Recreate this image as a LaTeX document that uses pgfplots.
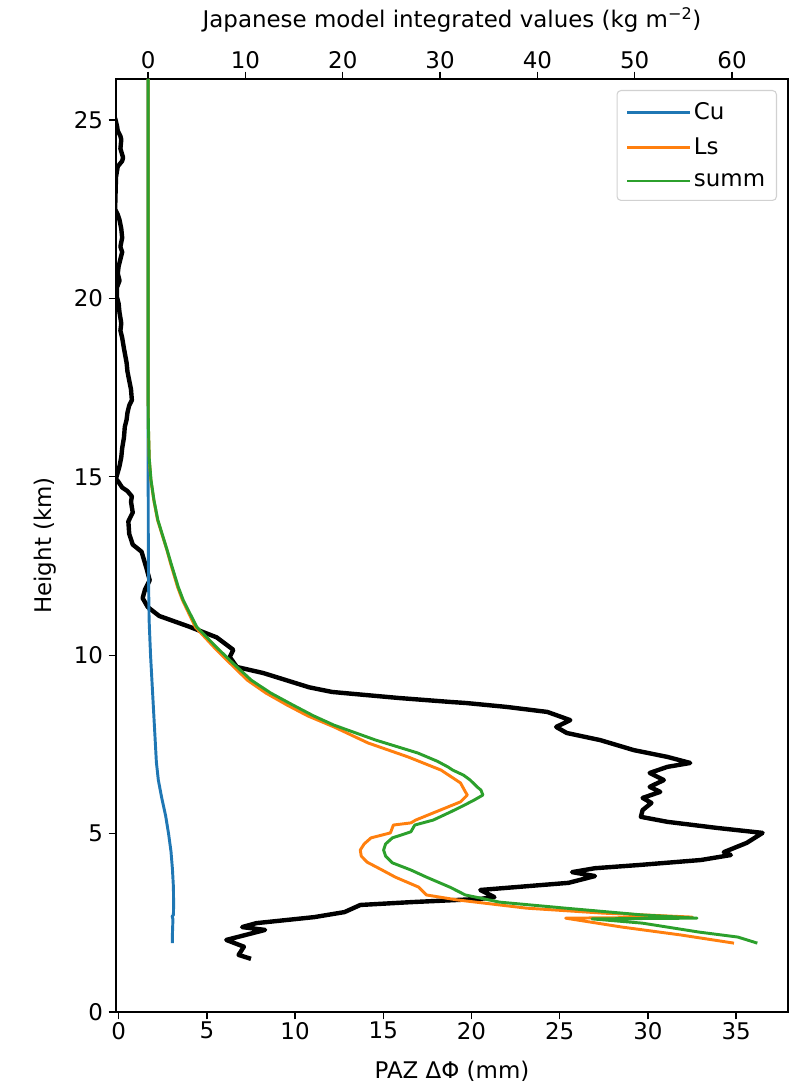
\documentclass[border=0pt]{standalone}
\usepackage{fontspec}
\setmainfont{DejaVu Sans}
\usepackage{pgfplots}
\pgfplotsset{compat=1.18}
\definecolor{c0}{HTML}{1F77B4}
\definecolor{c1}{HTML}{FF7F0E}
\definecolor{c2}{HTML}{2CA02C}
\pgfplotstableread{
b h
-0.2 25.05
-0.1 24.85
-0.05 24.7
0.1 24.55
0.15 24.45
0.1 24.2
0.25 23.95
0.2 23.85
-0.05 23.7
-0.1 23.55
-0.15 23.4
-0.2 22.5
-0.05 22.35
0.05 22.2
0.15 21.95
0.2 21.7
0.1 21.45
0.2 21.3
0.15 21.2
0.0 20.9
-0.05 20.7
0.05 20.5
-0.1 20.3
-0.1 20.05
0.0 19.85
0.05 19.6
0.15 19.3
0.1 19.1
0.2 18.9
0.3 18.6
0.45 18.2
0.5 17.95
0.6 17.7
0.7 17.45
0.75 17.15
0.6 17.0
0.5 16.8
0.45 16.6
0.35 16.4
0.3 16.1
0.2 15.8
0.15 15.55
0.05 15.3
-0.15 14.95
0.0 14.85
0.2 14.7
0.5 14.6
0.75 14.45
0.7 14.3
0.8 14.0
0.55 13.75
0.6 13.4
0.8 13.1
1.3 12.9
1.45 12.65
1.6 12.4
1.76 12.1
1.5 11.85
1.36 11.6
1.65 11.35
2.3 11.1
4.0 10.8
5.56 10.5
6.5 10.15
6.3 9.95
6.7 9.67
8.2 9.5
9.5 9.3
10.8 9.1
12.1 8.97
14.1 8.88
15.9 8.8
18.8 8.69
19.7 8.66
22.0 8.55
24.3 8.41
25.6 8.18
24.8 7.99
25.4 7.82
27.3 7.62
29.2 7.34
31.1 7.15
32.4 6.98
31.1 6.87
30.1 6.70
30.9 6.5
30.1 6.31
30.7 6.17
29.7 6.0
30.2 5.86
29.7 5.66
29.6 5.47
31.1 5.33
33.9 5.16
36.5 5.02
35.6 4.74
34.3 4.48
34.7 4.4
33.0 4.26
29.5 4.12
27.0 4.03
25.7 3.92
27.0 3.81
25.5 3.62
20.5 3.42
21.3 3.22
20.5 3.17
16.6 3.08
13.7 3.0
12.8 2.8
11.1 2.66
7.8 2.49
7.0 2.38
8.3 2.3
6.1 2.02
7.1 1.83
6.8 1.6
7.5 1.49
}\paz
\pgfplotstableread{
t h
0 26.15
0 16
0.02 13
0.05 12
0.1 11
0.25 10
0.45 9
0.65 8
0.85 7
1.05 6.5
1.4 6.0
1.8 5.5
2.1 5.0
2.35 4.5
2.5 4.0
2.6 3.5
2.62 3.0
2.6 2.72
2.47 2.68
2.55 2.6
2.5 2.2
2.5 1.93
}\cu
\pgfplotstableread{
t h
0 26.15
0 17.5
0.02 16.5
0.12 15.5
0.28 14.91
0.58 14.35
0.97 13.79
1.93 12.95
2.3 12.58
3.03 11.91
3.52 11.55
4.85 10.79
6.75 10.23
8.4 9.78
10.2 9.3
12.1 8.94
14.3 8.6
16.4 8.3
19.1 7.99
22.6 7.54
26.7 7.15
30.1 6.78
32.1 6.42
32.6 6.17
32.8 6.08
32.1 5.89
29.3 5.58
27.5 5.38
27.0 5.3
25.2 5.24
24.9 5.02
22.9 4.88
22.2 4.71
21.8 4.54
21.9 4.37
22.5 4.2
23.9 4.0
25.4 3.78
27.8 3.5
28.6 3.28
31.8 3.14
38.9 2.91
46.8 2.77
55.9 2.66
42.9 2.63
48.7 2.38
54.7 2.16
60.2 1.93
}\ls
\pgfplotstableread{
t h
0 26.15
0 17.5
0.02 16.5
0.12 15.5
0.3 14.91
0.6 14.35
1.0 13.79
1.95 12.95
2.35 12.58
3.1 11.91
3.6 11.55
5.0 10.79
7.0 10.23
8.7 9.78
10.6 9.3
12.6 8.94
14.9 8.6
17.0 8.3
19.1 8.04
23.4 7.62
27.7 7.26
29.7 7.03
30.8 6.87
31.3 6.78
32.4 6.64
33.1 6.5
33.8 6.31
34.2 6.22
34.4 6.08
33.5 5.94
32.3 5.77
31.1 5.61
29.3 5.38
27.4 5.24
27.0 5.05
25.1 4.88
24.4 4.71
24.2 4.54
24.4 4.37
25.1 4.18
27.0 3.98
28.6 3.78
31.0 3.5
32.6 3.28
36.1 3.08
42.9 2.91
50.8 2.72
56.4 2.63
45.6 2.61
50.8 2.49
56.6 2.24
60.6 2.1
62.6 1.93
}\summ
\begin{document}
\begin{tikzpicture}
\useasboundingbox (-87pt,-55.5pt) rectangle (509.25pt,759pt);
\pgfplotsset{
  every axis/.append style={
    at={(0,0)}, anchor=south west,
    width=504pt, height=699.75pt, scale only axis,
    font=\fontsize{17.2}{20.6}\selectfont,
    /pgf/number format/assume math mode=true,
    tick align=outside,
    major tick length=5.5pt,
    every tick/.style={black, line width=1pt},
    axis line style={line width=1.2pt},
    ymin=0, ymax=26.15,
  },
}
\begin{axis}[
  xmin=-0.15, xmax=37.94,
  xtick={0,5,...,35}, ytick={0,5,...,25},
  xtick pos=bottom, ytick pos=left,
  xticklabel style={inner sep=2pt},
  yticklabel style={inner sep=2pt, xshift=-2pt},
  xlabel={PAZ ΔΦ (mm)},
  ylabel={Height (km)},
  xlabel style={inner sep=2pt, yshift=-12pt},
  ylabel style={inner sep=3pt, yshift=8pt},
]
\addplot[black, line width=3.3pt, line join=round] table[x=b, y=h] {\paz};
\end{axis}
\begin{axis}[
  xmin=-3.3, xmax=65.75,
  axis y line=none, axis x line*=top,
  xtick={0,10,...,60},
  xticklabel style={inner sep=2pt},
  xlabel={Japanese model integrated values (kg m\textsuperscript{−2})},
  xlabel style={inner sep=2pt, yshift=10pt},
  legend cell align=left,
  legend style={at={(1,1)}, anchor=north east, xshift=-8.25pt, yshift=-8.25pt,
    draw=black!18, rounded corners=3pt, line width=0.8pt,
    inner xsep=6.5pt, inner ysep=7pt, row sep=8.5pt,
    font=\fontsize{17.2}{20.6}\selectfont},
  legend image code/.code={\draw[#1, line width=2.2pt] (0pt,0pt) -- (39pt,0pt); \path (0pt,0pt) -- (47pt,0pt);},
]
\addplot[c0, line width=2.2pt, line join=round] table[x=t, y=h] {\cu};
\addlegendentry{Cu}
\addplot[c1, line width=2.2pt, line join=round] table[x=t, y=h] {\ls};
\addlegendentry{Ls}
\addplot[c2, line width=2.2pt, line join=round] table[x=t, y=h] {\summ};
\addlegendentry{summ}
\end{axis}
\end{tikzpicture}
\end{document}
